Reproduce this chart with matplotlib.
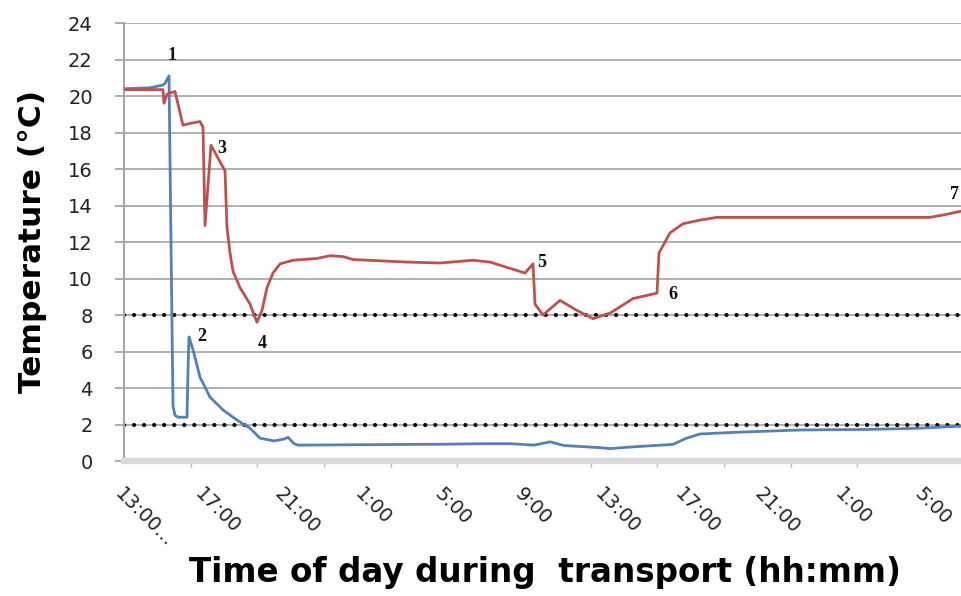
import matplotlib
matplotlib.use('Agg')
import matplotlib.pyplot as plt
from matplotlib.ticker import MultipleLocator

# hours since 13:00 on the first day
red_t = [0.0, 1.95, 2.0, 2.15, 2.55, 2.95, 3.3, 3.8, 3.95, 4.05, 4.35, 4.9, 5.05,
         5.15, 5.3, 5.45, 5.8, 6.3, 6.65, 6.9, 7.15, 7.45, 7.8, 8.45, 9.65, 10.3,
         10.95, 11.45, 14.15, 15.8, 17.45, 18.3, 20.05, 20.45, 20.55, 20.95, 21.8,
         22.65, 23.45, 24.3, 25.45, 26.65, 26.75, 27.3, 27.95, 28.8, 29.65, 33.8,
         40.3, 41.05, 41.9]
red_temp = [20.35, 20.35, 19.6, 20.1, 20.25, 18.4, 18.5, 18.6, 18.3, 12.9, 17.3, 16.2, 15.9,
            12.8, 11.4, 10.4, 9.5, 8.6, 7.6, 8.25, 9.5, 10.3, 10.8, 11.0, 11.1, 11.25,
            11.2, 11.04, 10.9, 10.85, 11.0, 10.9, 10.3, 10.8, 8.6, 8.0, 8.8,
            8.25, 7.8, 8.1, 8.9, 9.2, 11.4, 12.5, 13.0, 13.2, 13.35, 13.35,
            13.35, 13.5, 13.7]

blue_t = [0.0, 1.3, 1.95, 2.05, 2.25, 2.35, 2.45, 2.55, 2.7, 3.15, 3.2, 3.25, 3.45,
          3.8, 4.3, 4.95, 5.65, 6.3, 6.8, 7.5, 8.0, 8.2, 8.5, 8.7, 10.0, 13.0, 16.0,
          18.0, 19.3, 20.5, 21.3, 22.0, 23.8, 24.3, 25.5, 27.45, 28.1, 28.8, 30.5,
          33.8, 37.2, 39.6, 41.9]
blue_temp = [20.4, 20.45, 20.6, 20.7, 21.1, 12.0, 3.0, 2.5, 2.4, 2.4, 5.0, 6.8, 6.1,
             4.6, 3.5, 2.8, 2.24, 1.8, 1.25, 1.1, 1.2, 1.3, 0.95, 0.87, 0.88, 0.9, 0.92,
             0.95, 0.95, 0.87, 1.05, 0.85, 0.73, 0.68, 0.78, 0.91, 1.24, 1.48, 1.57,
             1.7, 1.73, 1.79, 1.91]

tick_hours = [0, 4, 8, 12, 16, 20, 24, 28, 32, 36, 40]
tick_labels = ['13:00...', '17:00', '21:00', '1:00', '5:00', '9:00',
               '13:00', '17:00', '21:00', '1:00', '5:00']
limits = [8, 2]

point_labels = ['1', '2', '3', '4', '5', '6', '7']
point_t = [2.4, 3.9, 4.9, 6.9, 20.9, 27.45, 41.5]
point_temp = [22.2, 6.8, 17.1, 6.45, 10.9, 9.1, 14.6]

fig = plt.figure(figsize=(9.62, 5.96), dpi=100)
ax = fig.add_axes([0.1289, 0.2265, 0.8711, 0.7349])

ax.set_xlim(0, 41.9)
ax.set_ylim(0, 24)
ax.set_yticks(range(0, 25, 2))
ax.yaxis.grid(True, color='#b0b0b0', lw=1.4)
ax.set_axisbelow(True)

for lim in limits:
    ax.axhline(lim, color='black', lw=3, linestyle=(0, (0.01, 2.4)),
               dash_capstyle='round', zorder=2)

ax.plot(blue_t, blue_temp, color='#4F81BD', lw=2, zorder=3)
ax.plot(red_t, red_temp, color='#C0504D', lw=2, zorder=3)

for lab, t, v in zip(point_labels, point_t, point_temp):
    ax.text(t, v, lab, family='Liberation Serif', fontweight='bold', fontsize=13,
            ha='center', va='center', color='#111111', zorder=4)

ax.set_xticks(tick_hours)
ax.set_xticklabels(tick_labels, rotation=-45, ha='left', va='top',
                   rotation_mode='anchor')
ax.xaxis.set_minor_locator(MultipleLocator(10 / 3))
ax.tick_params(axis='x', which='major', length=0, pad=17, labelsize=14,
               labelcolor='#222222')
ax.tick_params(axis='x', which='minor', length=4, width=1, color='#b8b8b8')
ax.tick_params(axis='y', length=6.5, width=1.3, color='#a6a6a6', pad=16,
               labelsize=14, labelcolor='#222222')

for s in ['top', 'right']:
    ax.spines[s].set_visible(False)
ax.spines['left'].set_color('#a6a6a6')
ax.spines['left'].set_linewidth(1.5)
ax.spines['bottom'].set_color('#d9d9d9')
ax.spines['bottom'].set_linewidth(4.5)

fig.text(0.0343, 0.5948, 'Temperature (°C)', rotation=90, fontsize=22.5,
         fontweight='bold', ha='center', va='center')
fig.text(0.5666, 0.0386, 'Time of day during  transport (hh:mm)', fontsize=23.5,
         fontweight='bold', ha='center', va='center')

fig.savefig('out.png', dpi=100)
